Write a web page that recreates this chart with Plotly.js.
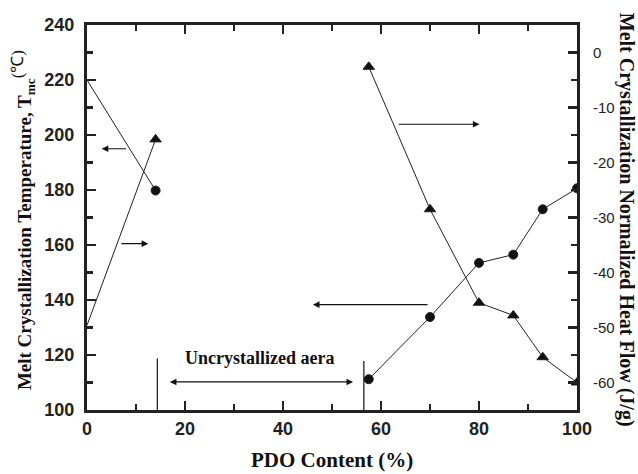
<!DOCTYPE html>
<html>
<head>
<meta charset="utf-8">
<script src="https://cdn.plot.ly/plotly-3.0.1.min.js"></script>
<style>html,body{margin:0;padding:0;background:#fff;}#chart{width:638px;height:474px;}</style>
</head>
<body>
<div id="chart"></div>
<script>
// PDO content (%) — null marks the uncrystallized gap between the two branches
const pdoContent = [0, 14, null, 57.5, 70, 80, 87, 93, 100];
// Melt crystallization temperature Tmc (°C), left axis
const tmc = [220, 179.8, null, 111.2, 133.8, 153.5, 156.5, 173, 180.6];
// Melt crystallization normalized heat flow (J/g), right axis
const heatFlow = [-49.6, -15.8, null, -2.6, -28.5, -45.5, -47.8, -55.4, -60];
// tick labels
const leftTicks = [100, 120, 140, 160, 180, 200, 220, 240];
const rightTickVals = [0, -10, -20, -30, -40, -50, -60];
const rightTickText = ["0", "-10", "-20", "-30", "-40", "-50", "-60"];
const xTicks = [0, 20, 40, 60, 80, 100];

const serif = "Liberation Serif, Times New Roman, serif";
const sans = "Liberation Sans, Arial, sans-serif";

// the points sitting on the left axis are hidden behind it in the reference
const circleSizes = [0, 9, 0, 9, 9, 9, 9, 9, 9];
const triSizes = [0, 10, 0, 10, 10, 10, 10, 10, 10];

const traces = [
  {
    x: pdoContent, y: tmc, type: "scatter", mode: "lines+markers", connectgaps: false,
    line: {color: "#222", width: 1},
    marker: {symbol: "circle", size: circleSizes, color: "#111", opacity: 1},
    xaxis: "x", yaxis: "y", showlegend: false
  },
  {
    x: pdoContent, y: heatFlow, type: "scatter", mode: "lines+markers", connectgaps: false,
    line: {color: "#222", width: 1},
    marker: {symbol: "triangle-up", size: triSizes, color: "#111", opacity: 1},
    xaxis: "x", yaxis: "y2", showlegend: false
  }
];

function arrow(x0, y0, x1, y1, both) {
  return {
    xref: "x", yref: "y", axref: "x", ayref: "y",
    x: x1, y: y1, ax: x0, ay: y0, text: "",
    showarrow: true, arrowhead: 2, arrowsize: 1.1, arrowwidth: 1.2,
    arrowcolor: "#111", arrowside: both ? "end+start" : "end",
    standoff: 0, startstandoff: 0
  };
}

const layout = {
  width: 638, height: 474,
  margin: {l: 87, r: 61, t: 25, b: 64},
  paper_bgcolor: "#fff", plot_bgcolor: "#fff",
  xaxis: {
    range: [0, 100], tickvals: xTicks, ticks: "inside", ticklen: 9, tickwidth: 2.5,
    tickcolor: "#222", showline: true, linewidth: 3, linecolor: "#222",
    mirror: "ticks", showgrid: false, zeroline: false,
    minor: {dtick: 10, ticks: "inside", ticklen: 6, tickwidth: 2.5, tickcolor: "#222", showgrid: false},
    tickfont: {family: sans, size: 18, color: "#222", weight: "bold"},
    ticklabelstandoff: 0
  },
  yaxis: {
    range: [100, 240], tickvals: leftTicks, ticks: "inside", ticklen: 9, tickwidth: 2.5,
    tickcolor: "#222", showline: true, linewidth: 3, linecolor: "#222",
    showgrid: false, zeroline: false,
    minor: {dtick: 10, ticks: "inside", ticklen: 6, tickwidth: 2.5, tickcolor: "#222", showgrid: false},
    tickfont: {family: sans, size: 18, color: "#222", weight: "bold"},
    ticklabelstandoff: 6
  },
  yaxis2: {
    overlaying: "y", side: "right", range: [-65, 5],
    tickvals: rightTickVals, ticktext: rightTickText,
    ticks: "inside", ticklen: 9, tickwidth: 2.5, tickcolor: "#222",
    showline: true, linewidth: 3, linecolor: "#222",
    showgrid: false, zeroline: false,
    minor: {dtick: 5, ticks: "inside", ticklen: 6, tickwidth: 2.5, tickcolor: "#222", showgrid: false},
    tickfont: {family: sans, size: 15, color: "#222"},
    ticklabelstandoff: 10
  },
  annotations: [
    arrow(8.3, 195, 3.0, 195),
    arrow(6.7, 160.5, 12.5, 160.5),
    arrow(63.3, 203.9, 80.1, 203.9),
    arrow(69.8, 138.3, 46.1, 138.3),
    arrow(16.6, 110.2, 54.3, 110.2, true),
    {xref: "x", yref: "y", x: 35.3, y: 119, text: "Uncrystallized aera", showarrow: false,
     font: {family: serif, size: 18, color: "#111", weight: "bold"}},
    {xref: "paper", yref: "paper", x: 0.5, y: -0.13, yanchor: "middle", xanchor: "center",
     text: "PDO Content (%)", showarrow: false,
     font: {family: serif, size: 21, color: "#111", weight: "bold"}},
    {xref: "paper", yref: "paper", x: -0.13, y: 0.494, xanchor: "center", yanchor: "middle",
     textangle: -90, text: "Melt Crystallization Temperature, T<sub>mc</sub><sup><span style=\"font-weight:normal;font-size:17px\">(℃)</span></sup>", showarrow: false,
     font: {family: serif, size: 19, color: "#111", weight: "bold"}},
    {xref: "paper", yref: "paper", x: 1.1, y: 0.494, xanchor: "center", yanchor: "middle",
     textangle: 90, text: "Melt Crystallization Normalized Heat Flow (J/g)", showarrow: false,
     font: {family: serif, size: 20, color: "#111", weight: "bold"}}
  ],
  shapes: [
    {type: "line", xref: "x", yref: "y", x0: 14.35, x1: 14.35, y0: 100, y1: 118.7, line: {color: "#111", width: 1.2}},
    {type: "line", xref: "x", yref: "y", x0: 56.5, x1: 56.5, y0: 100, y1: 117.8, line: {color: "#111", width: 1.2}}
  ]
};

Plotly.newPlot("chart", traces, layout, {displayModeBar: false, staticPlot: true});
</script>
</body>
</html>
